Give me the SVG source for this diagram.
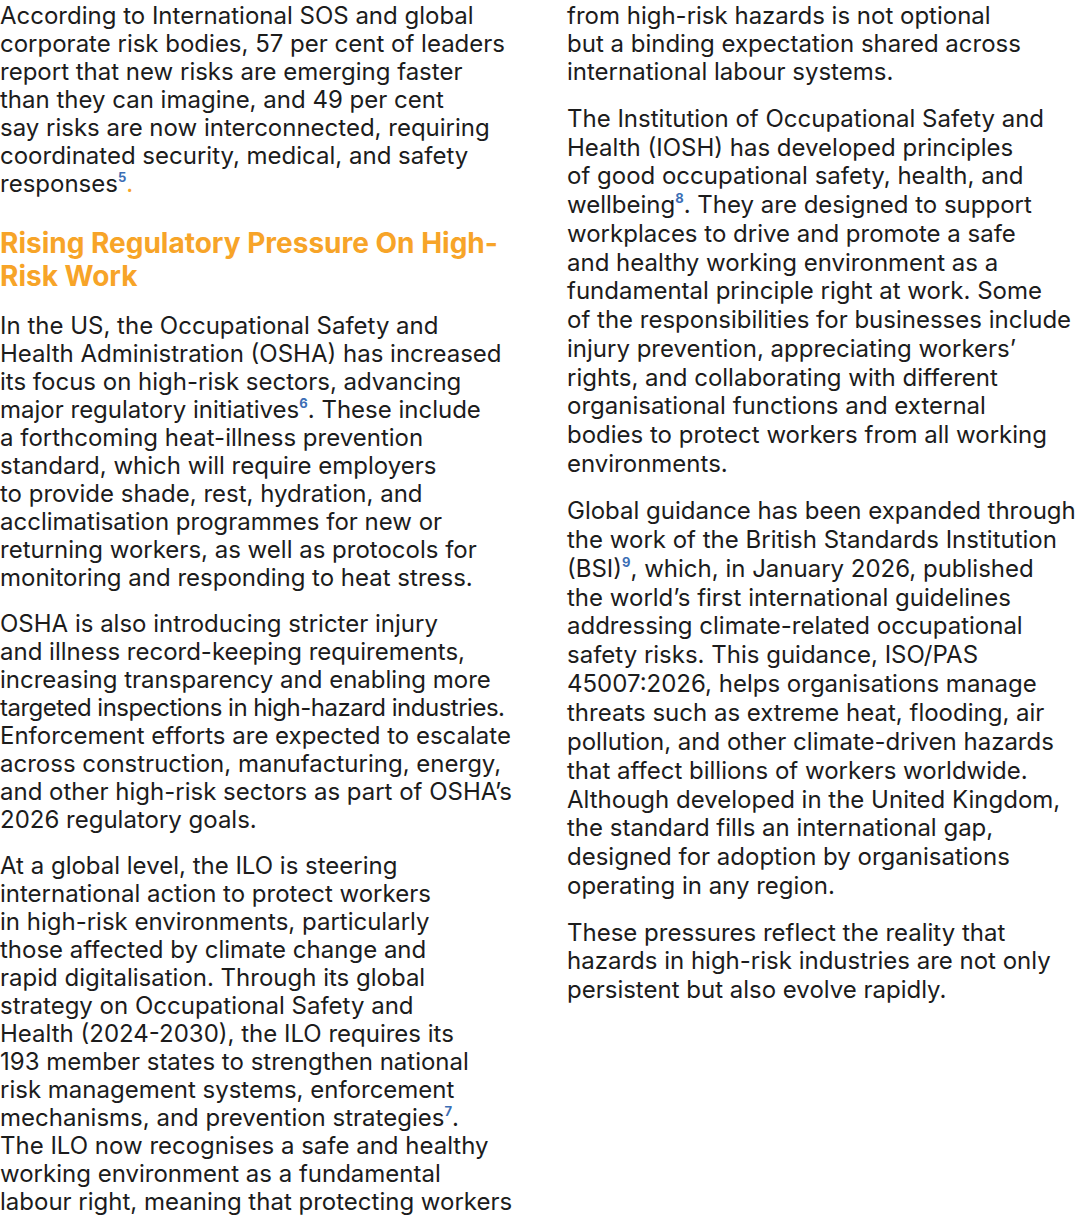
<svg xmlns="http://www.w3.org/2000/svg" width="1080" height="1218" viewBox="0 0 1080 1218">
<style>
text{font-family:Inter,"Liberation Sans",sans-serif;font-size:24px;fill:#1c1c1c}
.h{font-size:28px;font-weight:700;fill:#f7a428}
.s{font-size:13px;fill:#3b6eb5;font-weight:700}
</style>
<rect width="1080" height="1218" fill="#fff"/>
<g id="left">
<text x="0" y="24">According to International SOS and global</text>
<text x="0" y="52">corporate risk bodies, 57 per cent of leaders</text>
<text x="0" y="80">report that new risks are emerging faster</text>
<text x="0" y="108">than they can imagine, and 49 per cent</text>
<text x="0" y="136">say risks are now interconnected, requiring</text>
<text x="0" y="164">coordinated security, medical, and safety</text>
<text x="0" y="192">responses<tspan class="s" dy="-10">5</tspan><tspan dy="10" fill="#f7a428">.</tspan></text>
<text class="h" x="0" y="253">Rising Regulatory Pressure On High-</text>
<text class="h" x="0" y="286">Risk Work</text>
<text x="0" y="334">In the US, the Occupational Safety and</text>
<text x="0" y="362">Health Administration (OSHA) has increased</text>
<text x="0" y="390">its focus on high-risk sectors, advancing</text>
<text x="0" y="418">major regulatory initiatives<tspan class="s" dy="-10">6</tspan><tspan dy="10">. These include</tspan></text>
<text x="0" y="446">a forthcoming heat-illness prevention</text>
<text x="0" y="474">standard, which will require employers</text>
<text x="0" y="502">to provide shade, rest, hydration, and</text>
<text x="0" y="530">acclimatisation programmes for new or</text>
<text x="0" y="558">returning workers, as well as protocols for</text>
<text x="0" y="586">monitoring and responding to heat stress.</text>
<text x="0" y="632">OSHA is also introducing stricter injury</text>
<text x="0" y="660">and illness record-keeping requirements,</text>
<text x="0" y="688">increasing transparency and enabling more</text>
<text x="0" y="716" textLength="505" lengthAdjust="spacing">targeted inspections in high-hazard industries.</text>
<text x="0" y="744">Enforcement efforts are expected to escalate</text>
<text x="0" y="772">across construction, manufacturing, energy,</text>
<text x="0" y="800">and other high-risk sectors as part of OSHA’s</text>
<text x="0" y="828">2026 regulatory goals.</text>
<text x="0" y="874">At a global level, the ILO is steering</text>
<text x="0" y="902">international action to protect workers</text>
<text x="0" y="930">in high-risk environments, particularly</text>
<text x="0" y="958">those affected by climate change and</text>
<text x="0" y="986">rapid digitalisation. Through its global</text>
<text x="0" y="1014">strategy on Occupational Safety and</text>
<text x="0" y="1042">Health (2024-2030), the ILO requires its</text>
<text x="0" y="1070">193 member states to strengthen national</text>
<text x="0" y="1098">risk management systems, enforcement</text>
<text x="0" y="1126">mechanisms, and prevention strategies<tspan class="s" dy="-10">7</tspan><tspan dy="10">.</tspan></text>
<text x="0" y="1154">The ILO now recognises a safe and healthy</text>
<text x="0" y="1182">working environment as a fundamental</text>
<text x="0" y="1210">labour right, meaning that protecting workers</text>
</g>
<g id="right">
<text x="567" y="24">from high-risk hazards is not optional</text>
<text x="567" y="52">but a binding expectation shared across</text>
<text x="567" y="80">international labour systems.</text>
<text x="567" y="127">The Institution of Occupational Safety and</text>
<text x="567" y="156">Health (IOSH) has developed principles</text>
<text x="567" y="184">of good occupational safety, health, and</text>
<text x="567" y="213">wellbeing<tspan class="s" dy="-10">8</tspan><tspan dy="10">. They are designed to support</tspan></text>
<text x="567" y="242">workplaces to drive and promote a safe</text>
<text x="567" y="271">and healthy working environment as a</text>
<text x="567" y="299">fundamental principle right at work. Some</text>
<text x="567" y="328">of the responsibilities for businesses include</text>
<text x="567" y="357">injury prevention, appreciating workers’</text>
<text x="567" y="386">rights, and collaborating with different</text>
<text x="567" y="414">organisational functions and external</text>
<text x="567" y="443">bodies to protect workers from all working</text>
<text x="567" y="472">environments.</text>
<text x="567" y="519">Global guidance has been expanded through</text>
<text x="567" y="548">the work of the British Standards Institution</text>
<text x="567" y="577">(BSI)<tspan class="s" dy="-10">9</tspan><tspan dy="10">, which, in January 2026, published</tspan></text>
<text x="567" y="606">the world’s first international guidelines</text>
<text x="567" y="634">addressing climate-related occupational</text>
<text x="567" y="663">safety risks. This guidance, ISO/PAS</text>
<text x="567" y="692">45007:2026, helps organisations manage</text>
<text x="567" y="721">threats such as extreme heat, flooding, air</text>
<text x="567" y="750">pollution, and other climate-driven hazards</text>
<text x="567" y="779">that affect billions of workers worldwide.</text>
<text x="567" y="808">Although developed in the United Kingdom,</text>
<text x="567" y="836">the standard fills an international gap,</text>
<text x="567" y="865">designed for adoption by organisations</text>
<text x="567" y="894">operating in any region.</text>
<text x="567" y="941">These pressures reflect the reality that</text>
<text x="567" y="969">hazards in high-risk industries are not only</text>
<text x="567" y="998">persistent but also evolve rapidly.</text>
</g>
</svg>
